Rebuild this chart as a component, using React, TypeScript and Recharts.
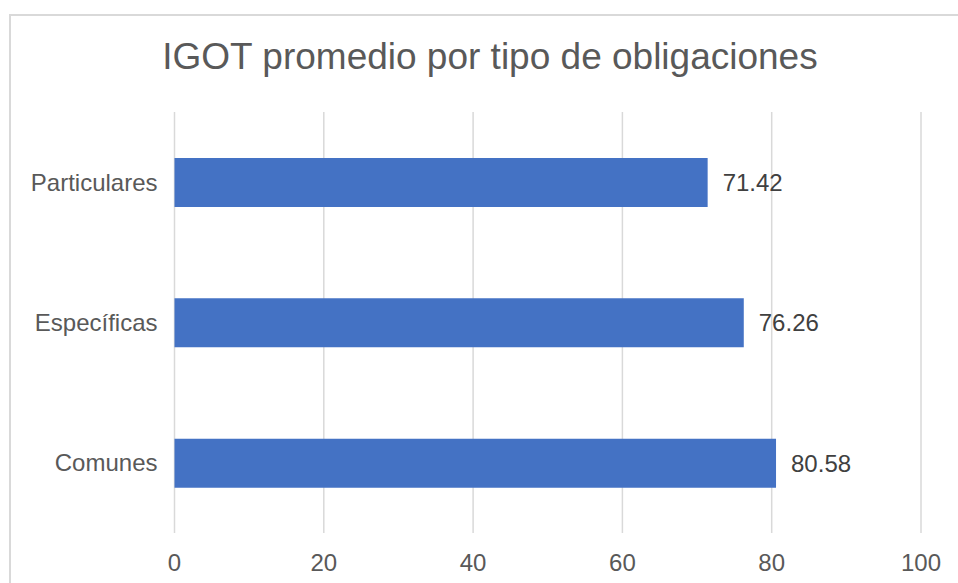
import { BarChart, Bar, XAxis, YAxis, CartesianGrid, LabelList } from "recharts";

const categories = ["Particulares", "Específicas", "Comunes"];
const values = [71.42, 76.26, 80.58];
const xTicks = [0, 20, 40, 60, 80, 100];

const data = categories.map((name, i) => ({ name, value: values[i] }));

const FONT = "'Liberation Sans', Arial, sans-serif";

export default function App() {
  return (
    <div
      style={{
        position: "absolute",
        left: 0,
        top: 0,
        width: 958,
        height: 583,
        overflow: "hidden",
        background: "#fff",
        fontFamily: FONT,
      }}
    >
      <div
        style={{
          position: "absolute",
          left: 9,
          top: 14,
          width: 1000,
          height: 1000,
          border: "2px solid #d9d9d9",
        }}
      />
      <div
        style={{
          position: "absolute",
          left: 0,
          width: 980,
          top: 35,
          textAlign: "center",
          fontSize: 37,
          lineHeight: "44px",
          color: "#595959",
        }}
      >
        IGOT promedio por tipo de obligaciones
      </div>
      <div style={{ position: "absolute", left: 0, top: 0 }}>
        <BarChart
          width={958}
          height={583}
          data={data}
          layout="vertical"
          margin={{ top: 112, right: 37, left: 0, bottom: 0 }}
        >
          <CartesianGrid horizontal={false} stroke="#d9d9d9" strokeWidth={1.5} />
          <XAxis
            type="number"
            domain={[0, 100]}
            ticks={xTicks}
            axisLine={false}
            tickLine={false}
            tickSize={0}
            tickMargin={21}
            height={50}
            tick={{ fontSize: 24, fill: "#595959", fontFamily: FONT }}
          />
          <YAxis
            type="category"
            dataKey="name"
            width={174.5}
            axisLine={false}
            tickLine={false}
            tickSize={0}
            tickMargin={17}
            tick={{ fontSize: 24, fill: "#595959", fontFamily: FONT }}
          />
          <Bar dataKey="value" fill="#4472c4" barSize={49} isAnimationActive={false}>
            <LabelList
              dataKey="value"
              position="right"
              offset={15}
              formatter={(v: number) => v.toFixed(2)}
              style={{ fontSize: 24, fill: "#404040", fontFamily: FONT }}
            />
          </Bar>
        </BarChart>
      </div>
    </div>
  );
}
